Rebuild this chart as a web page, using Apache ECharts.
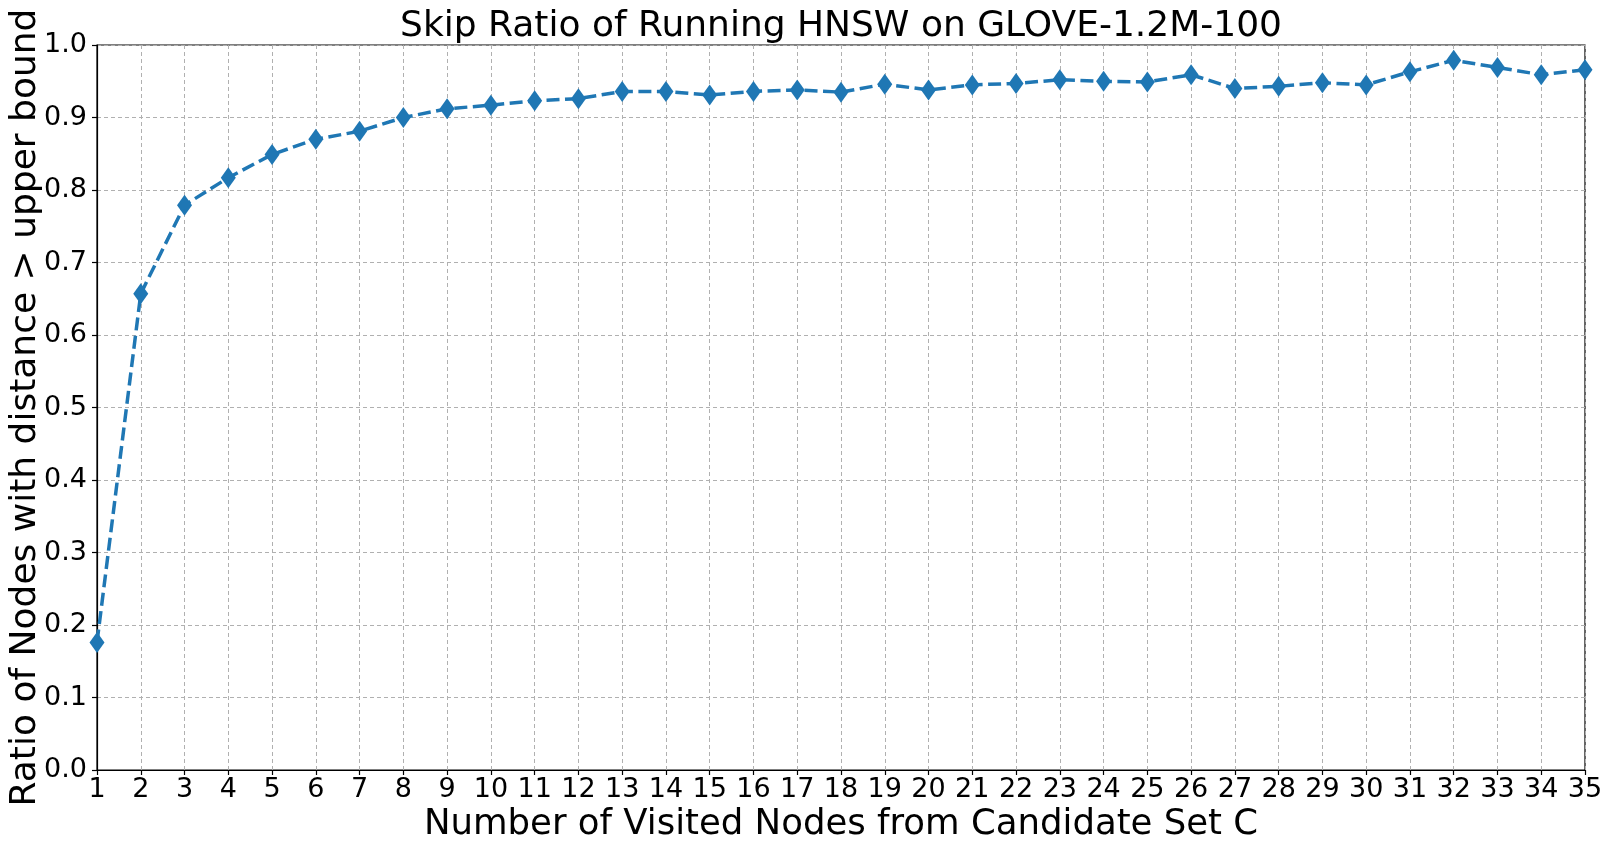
<!DOCTYPE html>
<html>
<head>
<meta charset="utf-8">
<script src="https://cdn.jsdelivr.net/npm/echarts@6/dist/echarts.min.js"></script>
<style>
  html, body { margin: 0; padding: 0; background: #fff; }
  #chart { width: 1609px; height: 850px; }
</style>
</head>
<body>
<div id="chart"></div>
<script>
// number of visited nodes from candidate set C
const visited = [1, 2, 3, 4, 5, 6, 7, 8, 9, 10, 11, 12, 13, 14, 15, 16, 17, 18,
  19, 20, 21, 22, 23, 24, 25, 26, 27, 28, 29, 30, 31, 32, 33, 34, 35]
// ratio of nodes with distance > upper bound
const skipRatio = [0.176, 0.657, 0.779, 0.817, 0.849, 0.870, 0.881, 0.900, 0.912, 0.917,
  0.923, 0.926, 0.936, 0.936, 0.931, 0.936, 0.938, 0.935, 0.946, 0.938,
  0.945, 0.947, 0.952, 0.950, 0.949, 0.959, 0.940, 0.943, 0.948, 0.945,
  0.963, 0.979, 0.969, 0.959, 0.966]
const yTicks = [0, 0.1, 0.2, 0.3, 0.4, 0.5, 0.6, 0.7, 0.8, 0.9, 1.0]

const font = 'DejaVu Sans'
const myChart = echarts.init(document.getElementById('chart'))

let points = []
visited.forEach((v, i) => {
  points[i] = [v, skipRatio[i]]
})

const option = {
  backgroundColor: '#fff',
  animation: false,
  title: {
    text: 'Skip Ratio of Running HNSW on GLOVE-1.2M-100',
    left: 836,
    textAlign: 'center',
    top: 4,
    textStyle: { fontFamily: font, fontSize: 36, fontWeight: 'normal', color: '#000' }
  },
  grid: {
    left: 97,
    right: 24,
    top: 45,
    bottom: 80,
    outerBoundsMode: 'none',
    containLabel: false,
    show: true,
    borderColor: '#000',
    borderWidth: 1.2,
    backgroundColor: 'transparent'
  },
  xAxis: {
    type: 'value',
    min: 1,
    max: 35,
    interval: 1,
    name: 'Number of Visited Nodes from Candidate Set C',
    nameLocation: 'middle',
    nameGap: 37,
    nameMoveOverlap: false,
    nameTextStyle: { fontFamily: font, fontSize: 35.5, color: '#000' },
    axisLine: { lineStyle: { color: '#000', width: 1.2 } },
    axisTick: { length: 5, lineStyle: { color: '#000', width: 1.2 } },
    axisLabel: { fontFamily: font, fontSize: 27, color: '#000', margin: 6 },
    splitLine: { show: true, lineStyle: { color: '#b0b0b0', type: [4, 3], width: 1 } }
  },
  yAxis: {
    type: 'value',
    min: yTicks[0],
    max: yTicks[yTicks.length - 1],
    interval: 0.1,
    name: 'Ratio of Nodes with distance > upper bound',
    nameLocation: 'middle',
    nameGap: 53,
    nameMoveOverlap: false,
    nameTextStyle: { fontFamily: font, fontSize: 36, color: '#000' },
    axisLine: { show: true, lineStyle: { color: '#000', width: 1.2 } },
    axisTick: { show: true, length: 5, lineStyle: { color: '#000', width: 1.2 } },
    axisLabel: {
      fontFamily: font, fontSize: 27, color: '#000', margin: 10,
      formatter: v => v.toFixed(1)
    },
    splitLine: { show: true, lineStyle: { color: '#b0b0b0', type: [4, 3], width: 1 } }
  },
  series: [{
    type: 'line',
    data: points,
    clip: true,
    symbol: 'diamond',
    symbolSize: [15, 21],
    itemStyle: { color: '#1f77b4' },
    lineStyle: { color: '#1f77b4', width: 3.5, type: [13, 5.5] }
  }]
}
myChart.setOption(option)
</script>
</body>
</html>
